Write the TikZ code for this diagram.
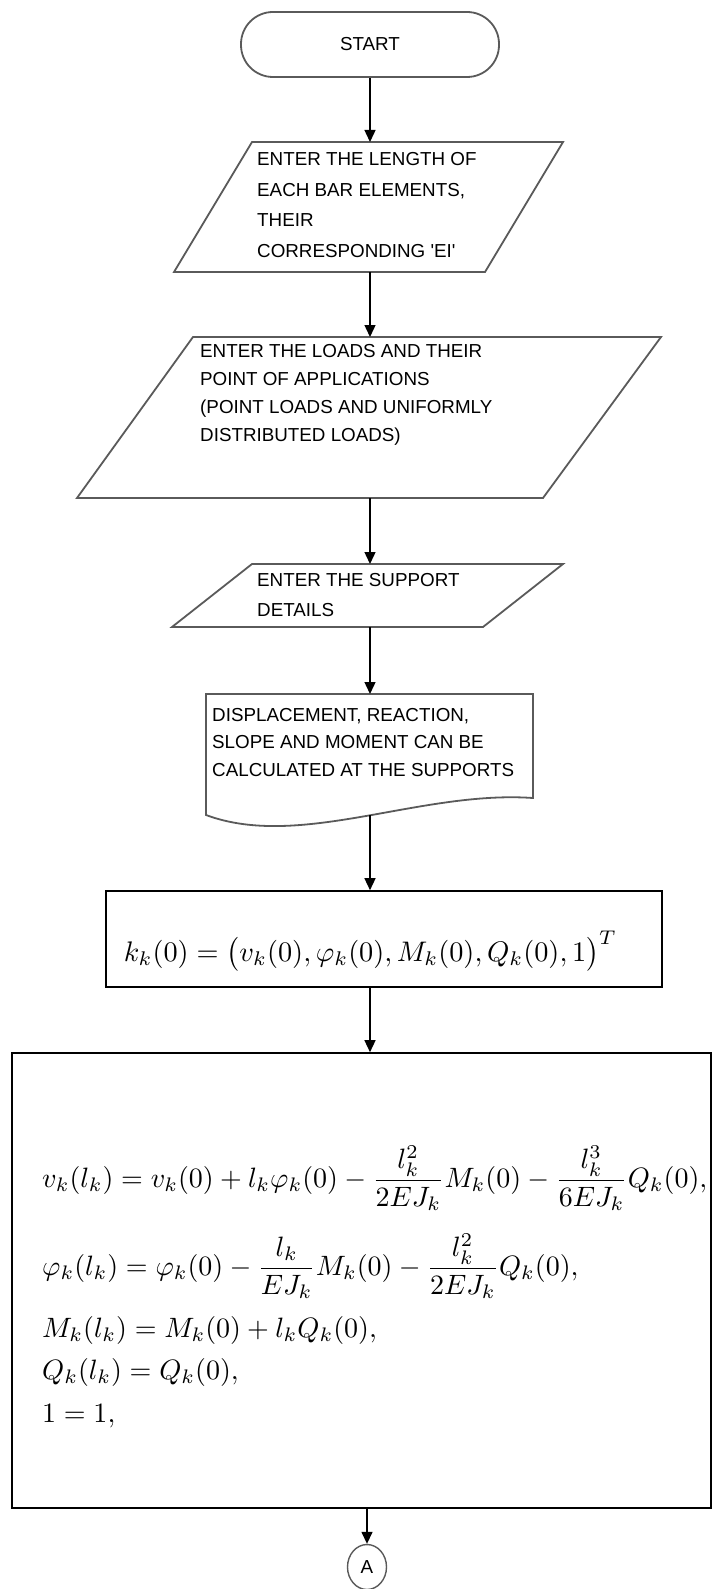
\documentclass[tikz,border=0pt]{standalone}
\usepackage{fontspec}
\setmainfont{Liberation Sans}
\usepackage{amsmath}
\usepackage{graphicx}
\usetikzlibrary{arrows.meta,shapes.geometric}
\definecolor{shapecol}{RGB}{90,90,90}
\newsavebox\eqboxA
\tikzset{
  outl/.style={draw=shapecol, line width=1.8pt, line join=miter},
  boxl/.style={draw=black, line width=1.6pt, inner sep=0pt},
  conn/.style={draw=black, line width=1.4pt, -{Triangle[length=12pt,width=11pt]}},
  lbl/.style={font=\fontsize{18.8}{29}\selectfont, align=left, inner sep=0pt, anchor=west},
  eqn/.style={inner sep=0pt, anchor=west},
}
\begin{document}
\begin{tikzpicture}[x=1pt,y=-1pt]
\useasboundingbox (0,0) rectangle (713,1589);
% START
\node[outl, rounded corners=32pt, minimum width=258pt, minimum height=65pt, inner sep=0pt,
      font=\fontsize{18.8}{20}\selectfont] (start) at (370,44.5) {START};
% parallelogram 1
\path[outl] (252,142) -- (563,142) -- (485,272) -- (174,272) -- cycle;
\coordinate (p1t) at (370,142);
\coordinate (p1b) at (370,272);
\node[lbl, font=\fontsize{18.8}{30.5}\selectfont] (t1) at (257,205)
  {ENTER THE LENGTH OF\\EACH BAR ELEMENTS,\\THEIR\\CORRESPONDING \textquotesingle EI\textquotesingle};
% parallelogram 2
\path[outl] (193,337) -- (661,337) -- (543,498) -- (77,498) -- cycle;
\coordinate (p2t) at (370,337);
\coordinate (p2b) at (370,498);
\node[lbl, font=\fontsize{18.8}{28}\selectfont] (t2) at (200,395)
  {ENTER THE LOADS AND THEIR\\POINT OF APPLICATIONS\\(POINT LOADS AND UNIFORMLY\\DISTRIBUTED LOADS)};
% parallelogram 3
\path[outl] (252,564) -- (563,564) -- (483,627) -- (172,627) -- cycle;
\coordinate (p3t) at (370,564);
\coordinate (p3b) at (370,627);
\node[lbl, font=\fontsize{18.8}{30}\selectfont] (t3) at (257,595)
  {ENTER THE SUPPORT\\DETAILS};
% document shape
\path[outl] (206,694) -- (533,694) -- (533,798) .. controls (420,790) and (300,850) .. (206,815) -- cycle;
\coordinate (doct) at (370,694);
\coordinate (docb) at (370,815);
\node[lbl, font=\fontsize{18.8}{27.5}\selectfont] (t4) at (212,742.5)
  {DISPLACEMENT, REACTION,\\SLOPE AND MOMENT CAN BE\\CALCULATED AT THE SUPPORTS};
% box k
\node[boxl, minimum width=556pt, minimum height=96pt] (kbox) at (384,939) {};
\node[inner sep=0pt] (kf) at (370.5,951)
  {\resizebox{493pt}{!}{$k_k(0)=\bigl(v_k(0),\varphi_k(0),M_k(0),Q_k(0),1\bigr)^{T}$}};
% big box
\node[boxl, minimum width=699pt, minimum height=455pt] (bigbox) at (361.5,1280.5) {};
\sbox\eqboxA{$\displaystyle v_k(l_k)=v_k(0)+l_k\varphi_k(0)-\frac{l_k^2}{2EJ_k}M_k(0)-\frac{l_k^3}{6EJ_k}Q_k(0),$}
\pgfmathsetmacro\eqs{665/\the\wd\eqboxA}
\node[eqn] (e1) at (42,1178) {\scalebox{\eqs}{\usebox\eqboxA}};
\node[eqn] (e2) at (42,1266) {\scalebox{\eqs}{$\displaystyle \varphi_k(l_k)=\varphi_k(0)-\frac{l_k}{EJ_k}M_k(0)-\frac{l_k^2}{2EJ_k}Q_k(0),$}};
\node[eqn] (e3) at (42,1330) {\scalebox{\eqs}{$\displaystyle M_k(l_k)=M_k(0)+l_kQ_k(0),$}};
\node[eqn] (e4) at (42,1372) {\scalebox{\eqs}{$\displaystyle Q_k(l_k)=Q_k(0),$}};
\node[eqn] (e5) at (42,1416) {\scalebox{\eqs}{$\displaystyle 1=1,$}};
% connector A
\node[draw=shapecol, line width=1.4pt, ellipse, minimum width=39pt, minimum height=45pt, inner sep=0pt,
      font=\fontsize{18.8}{20}\selectfont] (A) at (367,1567) {A};
% connectors
\draw[conn] (start) -- (p1t);
\draw[conn] (p1b) -- (p2t);
\draw[conn] (p2b) -- (p3t);
\draw[conn] (p3b) -- (doct);
\draw[conn] (docb) -- (kbox.north -| docb);
\draw[conn] (kbox.south -| docb) -- (bigbox.north -| docb);
\draw[conn] (bigbox.south -| A) -- (A);
\end{tikzpicture}
\end{document}
